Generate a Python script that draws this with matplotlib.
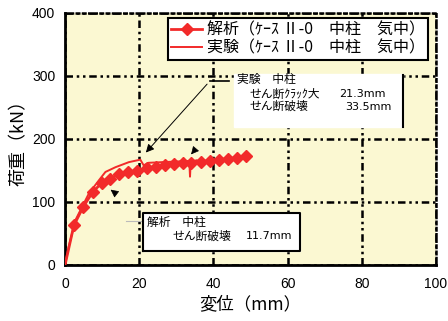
import matplotlib
matplotlib.use('Agg')
import matplotlib.pyplot as plt

# data
# analysis (解析)
ana_x = [0, 2.4, 4.9, 7.5, 9.9, 12.1, 14.6, 17.1, 19.5, 22.0, 24.4, 27.0, 29.4,
         31.7, 34.1, 36.7, 39.1, 41.6, 44.0, 46.4, 48.8]
ana_y = [0, 63, 92, 116, 130, 137, 144, 147.5, 149, 153, 155, 158, 160,
         161, 162, 164, 165.5, 167, 168.5, 170, 172]
# experiment (実験)
exp_x = [0, 1.0, 2.8, 4.6, 6.4, 9.1, 10.9, 13.6, 17.2, 20.3, 21.2, 22.5, 26.0,
         30.0, 33.5, 33.7, 33.9, 35.5]
exp_y = [0, 29, 71, 92, 113, 134, 147.5, 155, 163, 167, 158, 162, 163,
         164, 165, 140, 164, 166]

legend_labels = ['解析（ｹｰｽ Ⅱ-0　中柱　気中）', '実験（ｹｰｽ Ⅱ-0　中柱　気中）']
box1_lines = ['実験　中柱', 'せん断ｸﾗｯｸ大', 'せん断破壊']
box1_values = ['21.3mm', '33.5mm']
box2_lines = ['解析　中柱', 'せん断破壊']
box2_values = ['11.7mm']

jp = ['Noto Sans CJK JP', 'DejaVu Sans']
red = '#F22A2A'
bg = '#FBF8D2'

fig = plt.figure(figsize=(4.48, 3.21), dpi=100)
ax = fig.add_axes([0.1451, 0.1745, 0.828, 0.786])
ax.set_facecolor(bg)

ax.set_xlim(0, 100)
ax.set_ylim(0, 400)
ax.set_xticks([0, 20, 40, 60, 80, 100])
ax.set_yticks([0, 100, 200, 300, 400])
ax.tick_params(length=0, labelsize=10, pad=7)
ax.tick_params(axis='x', pad=9)
for lab in ax.get_xticklabels() + ax.get_yticklabels():
    lab.set_family('Liberation Sans')

# dash-dot-dot grid
dd = (0, (3, 1.5, 1, 1.5, 1, 1.5))
ax.grid(True, color='black', linestyle=dd, linewidth=1.8)
ax.set_axisbelow(True)
for s in ['left', 'bottom']:
    ax.spines[s].set_linewidth(2)
for s in ['top', 'right']:
    ax.spines[s].set_linewidth(1.8)
    ax.spines[s].set_linestyle(dd)

# annotation boxes
ax.fill([45.6, 91.1, 91.1, 45.6], [218, 218, 302, 302], color='white', zorder=3)
ax.plot([91.1, 91.1], [218, 301], color='black', lw=1.5, zorder=4)
ax.plot([39.2, 44.2], [292, 292], color='black', lw=1.2, zorder=4)
ax.plot([21, 63.3, 63.3, 21, 21], [22, 22, 82, 82, 22], color='black', lw=1.5, zorder=4)
ax.fill([21, 63.3, 63.3, 21], [22, 22, 82, 82], color='white', zorder=3)
ax.plot([16.5, 21], [70, 70], color='#BBBBBB', lw=0.8, zorder=3)

ax.text(46.3, 294, box1_lines[0], fontsize=8.5, family=jp, va='center', zorder=5)
ax.text(49.8, 271, box1_lines[1], fontsize=8.5, family=jp, va='center', zorder=5)
ax.text(49.8, 251, box1_lines[2], fontsize=8.5, family=jp, va='center', zorder=5)
ax.text(74, 271, box1_values[0], fontsize=8, family='Liberation Sans Narrow', va='center', zorder=5)
ax.text(75.6, 251, box1_values[1], fontsize=8, family='Liberation Sans Narrow', va='center', zorder=5)
ax.text(22, 68, box2_lines[0], fontsize=8.5, family=jp, va='center', zorder=5)
ax.text(29, 46, box2_lines[1], fontsize=8.5, family=jp, va='center', zorder=5)
ax.text(48.7, 46, box2_values[0], fontsize=8, family='Liberation Sans Narrow', va='center', zorder=5)

# leader arrows
ax.annotate('', xy=(21.3, 175), xytext=(38.8, 290),
            arrowprops=dict(arrowstyle='-|>', color='black', lw=0.7,
                            mutation_scale=12), zorder=6)
ax.annotate('', xy=(11.7, 122), xytext=(13.5, 114),
            arrowprops=dict(arrowstyle='-|>', color='black', lw=0.5,
                            mutation_scale=12), zorder=6)
ax.annotate('', xy=(33.5, 172), xytext=(34.8, 181),
            arrowprops=dict(arrowstyle='-|>', color='black', lw=0.5,
                            mutation_scale=12), zorder=6)

# series
ax.plot(ana_x, ana_y, color=red, lw=2, marker='D', ms=6.5,
        markevery=list(range(1, len(ana_x))), label=legend_labels[0], zorder=7)
ax.plot(exp_x, exp_y, color=red, lw=1.4, label=legend_labels[1], zorder=7)

leg = ax.legend(loc='upper right', bbox_to_anchor=(0.978, 0.977), prop={'family': jp, 'size': 11.5},
                fancybox=False, framealpha=1, edgecolor='black', borderpad=0.2,
                labelspacing=0.05, handlelength=1.9, handletextpad=0.3, borderaxespad=0)
leg.get_frame().set_linewidth(1.5)
leg.set_zorder(8)

ax.set_xlabel('変位（mm）', fontsize=12.5, family=jp, labelpad=3)
ax.set_ylabel('荷重（kN）', fontsize=13, family=jp, labelpad=3)

fig.savefig('out.png', dpi=100)
